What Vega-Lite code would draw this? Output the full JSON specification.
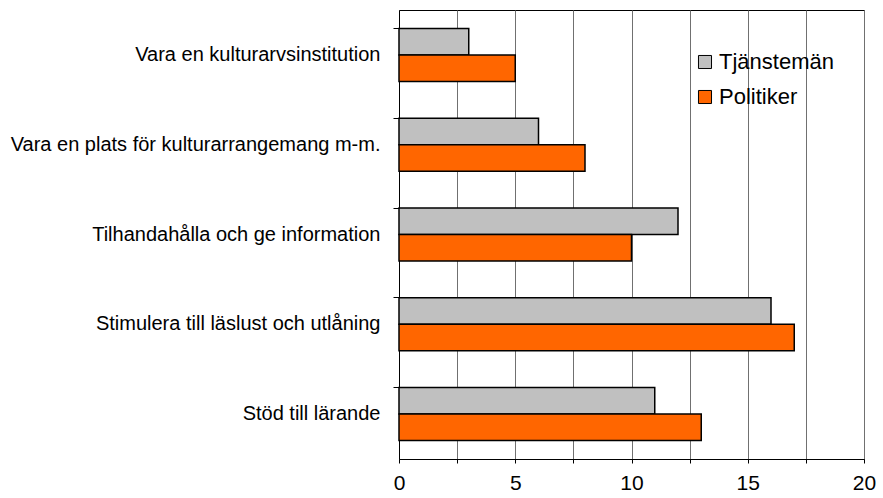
{
  "$schema": "https://vega.github.io/schema/vega-lite/v6.json",
  "autosize": {"type": "none"},
  "padding": {"left": 399, "top": 10, "right": 19, "bottom": 39},
  "width": 465,
  "height": 449,
  "background": "white",
  "config": {
    "view": {"stroke": "black", "strokeWidth": 1},
    "font": "Liberation Sans"
  },
  "data": {
    "values": [
      {"category": "Vara en kulturarvsinstitution", "series": "Tjänstemän", "value": 3},
      {"category": "Vara en kulturarvsinstitution", "series": "Politiker", "value": 5},
      {"category": "Vara en plats för kulturarrangemang m-m.", "series": "Tjänstemän", "value": 6},
      {"category": "Vara en plats för kulturarrangemang m-m.", "series": "Politiker", "value": 8},
      {"category": "Tilhandahålla och ge information", "series": "Tjänstemän", "value": 12},
      {"category": "Tilhandahålla och ge information", "series": "Politiker", "value": 10},
      {"category": "Stimulera till läslust och utlåning", "series": "Tjänstemän", "value": 16},
      {"category": "Stimulera till läslust och utlåning", "series": "Politiker", "value": 17},
      {"category": "Stöd till lärande", "series": "Tjänstemän", "value": 11},
      {"category": "Stöd till lärande", "series": "Politiker", "value": 13}
    ]
  },
  "mark": {"type": "bar", "stroke": "black", "strokeWidth": 1.5},
  "encoding": {
    "y": {
      "field": "category",
      "type": "nominal",
      "sort": null,
      "scale": {"paddingInner": 0.41, "paddingOuter": 0.205},
      "axis": {
        "title": null,
        "bandPosition": 0,
        "tickSize": 6,
        "tickColor": "black",
        "domainColor": "black",
        "labelFontSize": 20,
        "labelColor": "black",
        "labelPadding": 13,
        "labelLimit": 400,
        "grid": false
      }
    },
    "yOffset": {
      "field": "series",
      "type": "nominal",
      "sort": ["Tjänstemän", "Politiker"],
      "scale": {"paddingInner": 0, "paddingOuter": 0}
    },
    "x": {
      "field": "value",
      "type": "quantitative",
      "scale": {"domain": [0, 20], "nice": false, "zero": true},
      "axis": {
        "title": null,
        "values": [0, 2.5, 5, 7.5, 10, 12.5, 15, 17.5, 20],
        "labelExpr": "datum.value % 5 === 0 ? datum.label : ''",
        "grid": true,
        "gridColor": "#707070",
        "gridWidth": 1,
        "tickSize": 4,
        "tickColor": "black",
        "domainColor": "black",
        "labelFontSize": 21,
        "labelColor": "black",
        "labelPadding": 9,
        "labelFlush": false
      }
    },
    "fill": {
      "field": "series",
      "type": "nominal",
      "sort": ["Tjänstemän", "Politiker"],
      "scale": {"domain": ["Tjänstemän", "Politiker"], "range": ["#C0C0C0", "#FF6600"]},
      "legend": {
        "title": null,
        "orient": "none",
        "legendX": 295,
        "legendY": 41,
        "symbolType": "square",
        "symbolSize": 170,
        "symbolStrokeColor": "black",
        "symbolStrokeWidth": 1,
        "symbolOpacity": 1,
        "labelFontSize": 22,
        "labelColor": "black",
        "labelOffset": 3,
        "rowPadding": 13
      }
    }
  }
}
